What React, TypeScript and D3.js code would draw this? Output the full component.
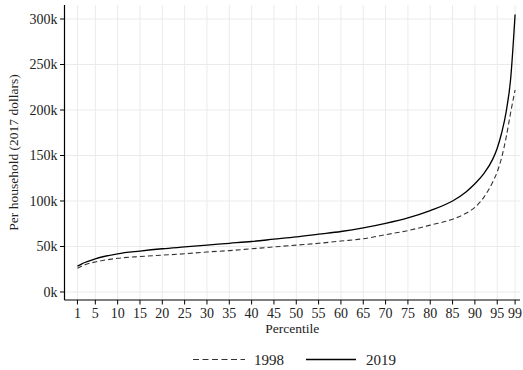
import React from "react";
import * as d3 from "d3";

// Percentiles at which household values are given
const percentiles = [1, 2, 3, 5, 10, 15, 20, 25, 30, 35, 40, 45, 50, 55, 60, 65, 70, 75, 80, 85, 88, 90, 92, 94, 95, 96, 97, 98, 99];

// Per-household values, thousands of 2017 dollars
const values1998 = [26, 28.5, 30.5, 33, 37, 39, 40.5, 42, 44, 45.5, 47.5, 49.5, 51.5, 53.5, 56, 58.5, 63, 67.5, 73.5, 80, 86.5, 93, 104, 121, 132, 148, 170, 197, 222];
const values2019 = [28.5, 31, 33, 36.5, 42, 45, 47.5, 49.5, 51.5, 53.5, 55.5, 58, 60.5, 63.5, 66.5, 70.5, 75.5, 81.5, 89.5, 100, 110, 119, 130, 146, 158, 175, 198, 234, 305];

const xTicks = [1, 5, 10, 15, 20, 25, 30, 35, 40, 45, 50, 55, 60, 65, 70, 75, 80, 85, 90, 95, 99];
const yTicks = [0, 50, 100, 150, 200, 250, 300];

const seriesNames = ["1998", "2019"];

const W = 523;
const H = 370;
const FONT = "'Liberation Serif', 'Times New Roman', serif";

export default function App() {
  const left = 64.5;
  const right = 520;
  const top = 5;
  const bottom = 300;

  const x = d3.scaleLinear().domain([-1.9, 100.1]).range([left, right]);
  const y = d3.scaleLinear().domain([-8.8, 315.4]).range([bottom, top]);

  const line = d3
    .line<number>()
    .x((_, i) => x(percentiles[i]))
    .y((d) => y(d))
    .curve(d3.curveMonotoneX);

  const grid = "#ebebeb";

  return (
    <div style={{ position: "absolute", left: 0, top: 0 }}>
      <svg width={W} height={H} style={{ display: "block", background: "#fff" }} fontFamily={FONT}>
        {/* grid */}
        {xTicks.map((t) => (
          <line key={"gx" + t} x1={x(t)} x2={x(t)} y1={top} y2={bottom} stroke={grid} strokeWidth={1} />
        ))}
        {yTicks.map((t) => (
          <line key={"gy" + t} x1={left} x2={right} y1={y(t)} y2={y(t)} stroke={grid} strokeWidth={1} />
        ))}

        {/* series */}
        <path d={line(values1998) ?? ""} fill="none" stroke="#333" strokeWidth={1.1} strokeDasharray="5,3" />
        <path d={line(values2019) ?? ""} fill="none" stroke="#000" strokeWidth={1.3} />

        {/* axes */}
        <line x1={left} x2={left} y1={top} y2={bottom} stroke="#000" strokeWidth={1.2} />
        <line x1={left} x2={right} y1={bottom} y2={bottom} stroke="#000" strokeWidth={1.2} />

        {yTicks.map((t) => (
          <g key={"ty" + t}>
            <line x1={left - 4.5} x2={left} y1={y(t)} y2={y(t)} stroke="#000" strokeWidth={1} />
            <text x={left - 7} y={y(t)} dy="0.34em" textAnchor="end" fontSize={14} fill="#222">
              {t + "k"}
            </text>
          </g>
        ))}
        {xTicks.map((t) => (
          <g key={"tx" + t}>
            <line x1={x(t)} x2={x(t)} y1={bottom} y2={bottom + 4.5} stroke="#000" strokeWidth={1} />
            <text x={x(t)} y={318} textAnchor="middle" fontSize={14} fill="#222">
              {t}
            </text>
          </g>
        ))}

        {/* axis titles */}
        <text x={(left + right) / 2} y={333} textAnchor="middle" fontSize={13.5} fill="#222">
          Percentile
        </text>
        <text
          transform={`translate(18, ${(top + bottom) / 2}) rotate(-90)`}
          textAnchor="middle"
          fontSize={13.5}
          fill="#222"
        >
          Per household (2017 dollars)
        </text>

        {/* legend */}
        <line x1={193} x2={245} y1={359.5} y2={359.5} stroke="#333" strokeWidth={1.1} strokeDasharray="6,3.5" />
        <text x={254} y={365} fontSize={15} fill="#222">
          {seriesNames[0]}
        </text>
        <line x1={306} x2={356} y1={359.5} y2={359.5} stroke="#000" strokeWidth={1.3} />
        <text x={366} y={365} fontSize={15} fill="#222">
          {seriesNames[1]}
        </text>
      </svg>
    </div>
  );
}
